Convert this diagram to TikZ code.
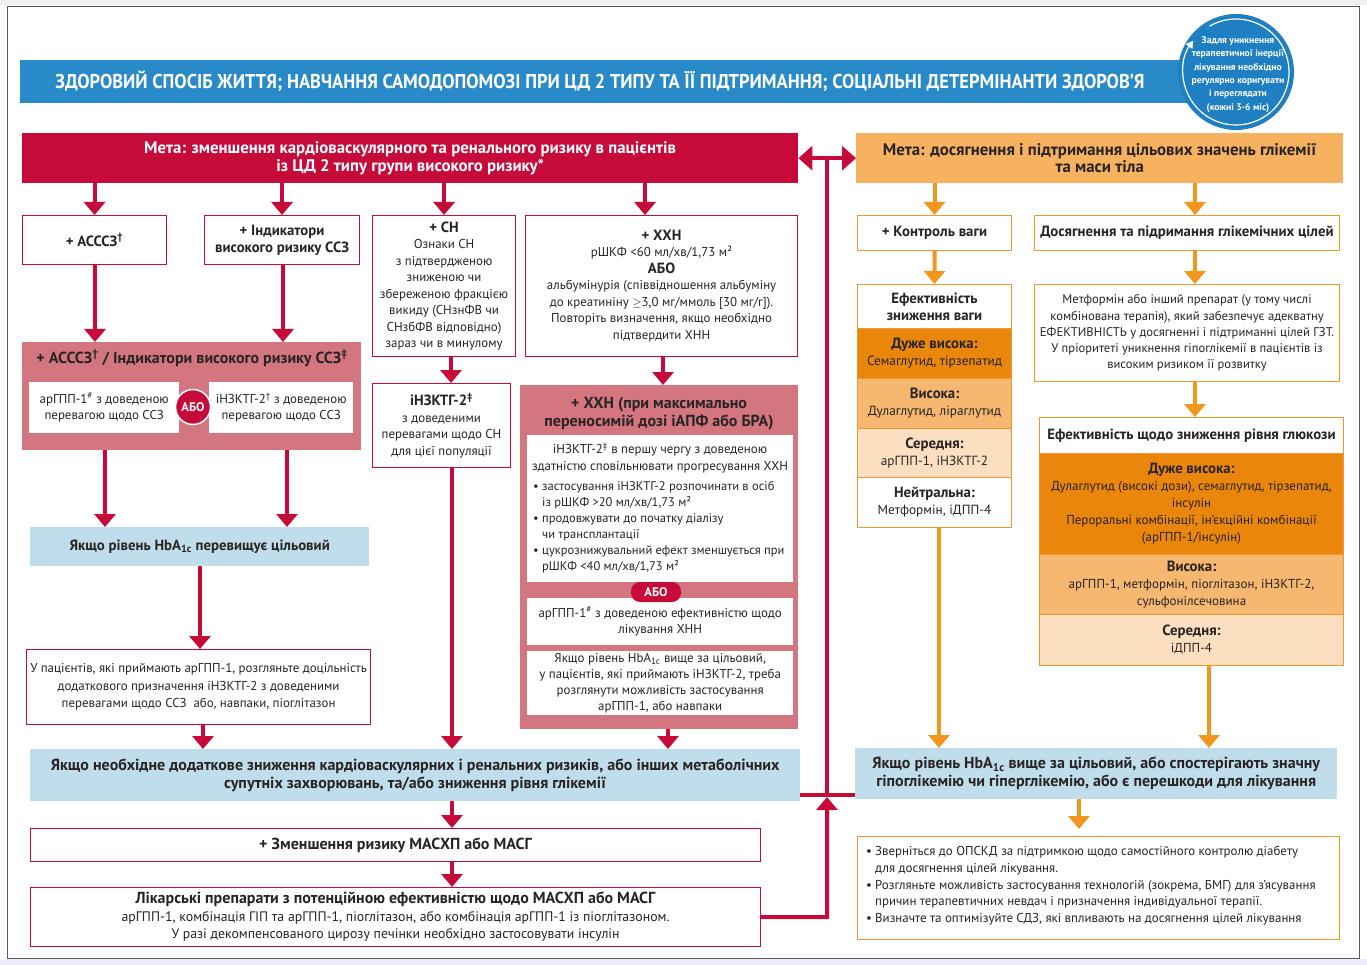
\documentclass[tikz,border=0pt]{standalone}
\usepackage{fontspec}
\setmainfont{PT Sans}
\usepackage{graphicx}
\usetikzlibrary{arrows.meta,calc}
\definecolor{crim}{RGB}{198,10,58}
\definecolor{pinkf}{RGB}{212,118,128}
\definecolor{lblue}{RGB}{192,221,235}
\definecolor{bblue}{RGB}{40,138,200}
\definecolor{cblue}{RGB}{30,128,194}
\definecolor{ogoal}{RGB}{247,178,96}
\definecolor{odark}{RGB}{234,134,12}
\definecolor{omed}{RGB}{246,184,112}
\definecolor{olight}{RGB}{252,223,192}
\definecolor{obrd}{RGB}{240,152,45}
\definecolor{oarr}{RGB}{241,150,30}
\definecolor{txt}{RGB}{40,36,37}
\newcommand{\frg}{\fontsize{12.9pt}{16.5pt}\selectfont}
\newcommand{\fbd}{\fontsize{14.8pt}{17pt}\selectfont\bfseries}
\newcommand{\fbig}{\fontsize{16pt}{18pt}\selectfont\bfseries}
\newcommand{\bul}{\makebox[9pt][l]{•}}
\newcommand{\ind}{\hspace*{9pt}}
\newcommand{\sps}[1]{\textsuperscript{#1}}
\begin{document}
\begin{tikzpicture}[x=1pt,y=-1pt,
  box/.style={anchor=north west, inner sep=0pt, align=center, text=txt, font=\frg},
  rbox/.style={box, draw=crim, line width=1.1pt, fill=white},
  obox/.style={box, draw=obrd, line width=1.1pt, fill=white},
  fbox/.style={box, draw=none},
  tnode/.style={inner sep=0pt, align=center, text=txt, font=\frg},
  rarr/.style={draw=crim, line width=4pt, -{Triangle[width=21pt,length=13pt]}},
  oarrw/.style={draw=oarr, line width=4pt, -{Triangle[width=21pt,length=13pt]}},
  rline/.style={draw=crim, line width=4pt},
  wsec/.style={box, minimum width=154pt, draw=obrd, line width=1pt},
  gsec/.style={box, minimum width=304pt, draw=obrd, line width=1pt}
]
\useasboundingbox (0,0) rectangle (1367,965);
\fill[white] (0,0) rectangle (1367,965);
\fill[gray!12] (0,0) rectangle (1367,5);
\fill[blue!7] (0,959) rectangle (1367,965);
\draw[gray!70!black, line width=1pt] (7,7) rectangle (1359,958);

% banner
\node[fbox, fill=bblue, minimum width=1180pt, minimum height=43pt] (banner) at (20,60) {};
\node[tnode, text=white, font=\fontsize{20pt}{20pt}\selectfont\bfseries] (bannertxt) at (600,81.5)
  {\scalebox{0.92}[1]{ЗДОРОВИЙ СПОСІБ ЖИТТЯ; НАВЧАННЯ САМОДОПОМОЗІ ПРИ ЦД 2 ТИПУ ТА ЇЇ ПІДТРИМАННЯ; СОЦІАЛЬНІ ДЕТЕРМІНАНТИ ЗДОРОВ’Я}};
\node[circle, fill=cblue, minimum size=116pt, inner sep=0pt] (circ) at (1236,72) {};
\draw[white, line width=1.2pt, -{Triangle[width=8pt,length=7pt]}] ($(circ.center)+(-120:53)$) arc[start angle=-120, end angle=216, radius=53];
\node[tnode, text=white, font=\fontsize{9.6pt}{13.4pt}\selectfont\bfseries] (circtxt) at (1238,74.5)
  {Задля уникнення\\терапевтичної інерції\\лікування необхідно\\регулярно коригувати\\і переглядати\\(кожні 3-6 міс)};

% goals
\node[fbox, fill=crim, text=white, font=\fontsize{16.8pt}{17.5pt}\selectfont\bfseries, minimum width=776pt, minimum height=50pt] (goalR) at (22,133)
  {Мета: зменшення кардіоваскулярного та ренального ризику в пацієнтів\\із ЦД 2 типу групи високого ризику*};
\node[fbox, fill=ogoal, font=\fontsize{16.8pt}{17.5pt}\selectfont\bfseries, minimum width=487pt, minimum height=50pt] (goalO) at (856,133)
  {Мета: досягнення і підтримання цільових значень глікемії\\та маси тіла};

% left row 1
\node[rbox, minimum width=144pt, minimum height=49pt, font=\fbd] (b1) at (22,215) {+ АСССЗ\sps{†}};
\node[rbox, minimum width=155pt, minimum height=49pt, font=\fbd] (b2) at (204,215) {+ Індикатори\\високого ризику ССЗ};
\node[rbox, minimum width=143pt, minimum height=141pt] (b3) at (372,215)
  {{\fbd + СН}\\Ознаки СН\\з підтвердженою\\зниженою чи\\збереженою фракцією\\викиду (СНзнФВ чи\\СНзбФВ відповідно)\\зараз чи в минулому};
\node[rbox, minimum width=272pt, minimum height=141pt] (b4) at (525,215)
  {{\fbd + ХХН}\\рШКФ <60 мл/хв/1,73 м²\\{\fbd АБО}\\альбумінурія (співвідношення альбуміну\\до креатиніну $\geq$3,0 мг/ммоль [30 мг/г]).\\Повторіть визначення, якщо необхідно\\підтвердити ХНН};

\coordinate (x645) at (645,0);
\draw[rarr] (goalR.south -| b1.north) -- (b1.north);
\draw[rarr] (goalR.south -| b2.north) -- (b2.north);
\draw[rarr] (goalR.south -| b3.north) -- (b3.north);
\draw[rarr] (goalR.south -| x645) -- (b4.north -| x645);

% pink ASCVD
\node[fbox, fill=pinkf, minimum width=339pt, minimum height=108pt] (p1) at (22,342) {};
\node[tnode, font=\fontsize{16pt}{17pt}\selectfont\bfseries] (p1t) at (192,358) {+ АСССЗ\sps{†} / Індикатори високого ризику ССЗ\sps{‡}};
\node[box, fill=white, minimum width=150pt, minimum height=51pt] (w1) at (29,382) {арГПП-1\sps{\#} з доведеною\\перевагою щодо ССЗ};
\node[box, fill=white, minimum width=144pt, minimum height=51pt] (w2) at (209,382) {іНЗКТГ-2\sps{†} з доведеною\\перевагою щодо ССЗ};
\node[circle, fill=crim, draw=white, line width=1.5pt, minimum size=35pt, inner sep=0pt, text=white, font=\fontsize{12.5pt}{12pt}\selectfont\bfseries] (abo1) at (193,407) {АБО};

\coordinate (x95) at (95,0);
\coordinate (x283) at (283,0);
\draw[rarr] (b1.south -| x95) -- (p1.north -| x95);
\draw[rarr] (b2.south -| x283) -- (p1.north -| x283);

% HbA1c left
\node[fbox, fill=lblue, minimum width=339pt, minimum height=39pt, font=\fbd] (hb) at (30,527) {Якщо рівень HbA\textsubscript{1c} перевищує цільовий};
\coordinate (x105) at (105,0);
\coordinate (x287) at (287,0);
\draw[rarr] (p1.south -| x105) -- (hb.north -| x105);
\draw[rarr] (p1.south -| x287) -- (hb.north -| x287);

\node[rbox, minimum width=344pt, minimum height=75pt, font=\fontsize{12.9pt}{17.5pt}\selectfont] (u1) at (26,649)
  {У пацієнтів, які приймають арГПП-1, розгляньте доцільність\\додаткового призначення іНЗКТГ-2 з доведеними\\перевагами щодо ССЗ~ або, навпаки, піоглітазон};
\coordinate (x200) at (200,0);
\draw[rarr] (hb.south -| x200) -- (u1.north -| x200);

% HF column
\node[rbox, minimum width=138pt, minimum height=84pt] (s1) at (372,383)
  {{\fbd іНЗКТГ-2\sps{‡}}\\з доведеними\\перевагами щодо СН\\для цієї популяції};
\coordinate (x451) at (451,0);
\draw[rarr] (b3.south -| x451) -- (s1.north -| x451);

% CKD pink
\coordinate (x663) at (663,0);
\node[fbox, fill=pinkf, minimum width=278pt, minimum height=344pt] (k1) at (520,385) {};
\draw[rarr] (b4.south -| x663) -- (k1.north -| x663);
\node[tnode, font=\fontsize{16pt}{18pt}\selectfont\bfseries] (k1t) at (659,414) {+ ХХН (при максимально\\переносимій дозі іАПФ або БРА)};
\node[box, fill=white, minimum width=266pt, minimum height=147pt] (k1a) at (527,435) {};
\node[tnode] (k1ah) at (660,458) {іНЗКТГ-2\sps{‡} в першу чергу з доведеною\\здатністю сповільнювати прогресування ХХН};
\node[tnode, anchor=north west, align=left, font=\fontsize{12.5pt}{16pt}\selectfont] (k1ab) at (533,481)
  {\bul застосування іНЗКТГ-2 розпочинати в осіб\\\ind із рШКФ >20 мл/хв/1,73 м²\\\bul продовжувати до початку діалізу\\\ind чи трансплантації\\\bul цукрознижувальний ефект зменшується при\\\ind рШКФ <40 мл/хв/1,73 м²};
\node[box, fill=white, minimum width=266pt, minimum height=47pt] (k1b) at (527,598) {арГПП-1\sps{\#} з доведеною ефективністю щодо\\лікування ХНН};
\node[box, fill=white, minimum width=266pt, minimum height=64pt, font=\fontsize{12.9pt}{16.3pt}\selectfont] (k1c) at (527,651)
  {Якщо рівень HbA\textsubscript{1c} вище за цільовий,\\у пацієнтів, які приймають іНЗКТГ-2, треба\\розглянути можливість застосування\\арГПП-1, або навпаки};
\node[rounded corners=9pt, fill=crim, minimum width=50pt, minimum height=20pt, inner sep=0pt, text=white, font=\fontsize{12.5pt}{12pt}\selectfont\bfseries] (abo2) at (656,592) {АБО};

% big blue box
\node[fbox, fill=lblue, minimum width=770pt, minimum height=52pt, font=\fbig] (bb) at (30,749)
  {Якщо необхідне додаткове зниження кардіоваскулярних і ренальних ризиків, або інших метаболічних\\супутніх захворювань, та/або зниження рівня глікемії};
\coordinate (x203) at (203,0);
\coordinate (x452) at (452,0);
\coordinate (x668) at (668,0);
\draw[rarr] (u1.south -| x203) -- (bb.north -| x203);
\draw[rarr] (s1.south -| x452) -- (bb.north -| x452);
\draw[rarr] (k1.south -| x668) -- (bb.north -| x668);

\node[rbox, minimum width=730pt, minimum height=33pt, font=\fbig] (m1) at (30,828) {+ Зменшення ризику МАСХП або МАСГ};
\node[rbox, minimum width=730pt, minimum height=59pt, font=\fontsize{13.8pt}{17.5pt}\selectfont] (m2) at (30,887)
  {{\fbig Лікарські препарати з потенційною ефективністю щодо МАСХП або МАСГ}\\арГПП-1, комбінація ГІП та арГПП-1, піоглітазон, або комбінація арГПП-1 із піоглітазоном.\\У разі декомпенсованого цирозу печінки необхідно застосовувати інсулін};
\draw[rarr] (bb.south -| x452) -- (m1.north -| x452);
\draw[rarr] (m1.south -| x452) -- (m2.north -| x452);

% right side
\node[obox, minimum width=154pt, minimum height=35pt, font=\fbd] (o1) at (857,215) {+ Контроль ваги};
\node[obox, minimum width=305pt, minimum height=35pt, font=\fbd] (o2) at (1034,215) {Досягнення та підримання глікемічних цілей};
\coordinate (x1195) at (1195,0);
\draw[oarrw] (goalO.south -| o1.north) -- (o1.north);
\draw[oarrw] (goalO.south -| x1195) -- (o2.north -| x1195);

\node[wsec, fill=white, minimum height=44pt, font=\fbd] (weH) at (857,284) {Ефективність\\зниження ваги};
\node[wsec, fill=odark, minimum height=50pt, font=\fontsize{13.3pt}{17pt}\selectfont] (weD) at (857,328) {{\fbd Дуже висока:}\\Семаглутид, тірзепатид};
\node[wsec, fill=omed, minimum height=50pt, font=\fontsize{13.3pt}{17pt}\selectfont] (weM) at (857,378) {{\fbd Висока:}\\Дулаглутид, ліраглутид};
\node[wsec, fill=olight, minimum height=49pt, font=\fontsize{13.3pt}{17pt}\selectfont] (weL) at (857,428) {{\fbd Середня:}\\арГПП-1, іНЗКТГ-2};
\node[wsec, fill=white, minimum height=50pt, font=\fontsize{13.3pt}{17pt}\selectfont] (weN) at (857,477) {{\fbd Нейтральна:}\\Метформін, іДПП-4};
\draw[oarrw] (o1.south) -- (weH.north);

\node[obox, minimum width=305pt, minimum height=97pt, font=\fontsize{12.6pt}{16.3pt}\selectfont] (gm) at (1034,284)
  {Метформін або інший препарат (у тому числі\\комбінована терапія), який забезпечує адекватну\\ЕФЕКТИВНІСТЬ у досягненні і підтриманні цілей ГЗТ.\\У пріоритеті уникнення гіпоглікемії в пацієнтів із\\високим ризиком її розвитку};
\draw[oarrw] (o2.south -| x1195) -- (gm.north -| x1195);

\node[gsec, fill=white, minimum height=36pt, font=\fbd] (geH) at (1039,417) {Ефективність щодо зниження рівня глюкози};
\node[gsec, fill=odark, minimum height=101pt, font=\fontsize{13pt}{17pt}\selectfont] (geD) at (1039,453)
  {{\fbd Дуже висока:}\\Дулаглутид (високі дози), семаглутид, тірзепатид,\\інсулін\\Пероральні комбінації, ін’єкційні комбінації\\(арГПП-1/інсулін)};
\node[gsec, fill=omed, minimum height=60pt, font=\fontsize{13pt}{17pt}\selectfont] (geM) at (1039,554)
  {{\fbd Висока:}\\арГПП-1, метформін, піоглітазон, іНЗКТГ-2,\\сульфонілсечовина};
\node[gsec, fill=olight, minimum height=51pt, font=\fontsize{13pt}{17pt}\selectfont] (geL) at (1039,614) {{\fbd Середня:}\\іДПП-4};
\draw[oarrw] (gm.south -| x1195) -- (geH.north -| x1195);

\node[fbox, fill=lblue, minimum width=482pt, minimum height=51pt, font=\fbig] (rb) at (855,748)
  {Якщо рівень HbA\textsubscript{1c} вище за цільовий, або спостерігають значну\\гіпоглікемію чи гіперглікемію, або є перешкоди для лікування};
\coordinate (x939) at (939,0);
\coordinate (x1209) at (1209,0);
\draw[oarrw] (weN.south -| x939) -- (rb.north -| x939);
\draw[oarrw] (geL.south -| x1209) -- (rb.north -| x1209);

\node[obox, minimum width=482pt, minimum height=103pt] (ob) at (857,836) {};
\node[tnode, anchor=north west, align=left, font=\fontsize{12.9pt}{16.8pt}\selectfont] (obt) at (866,846)
  {\bul Зверніться до ОПСКД за підтримкою щодо самостійного контролю діабету\\\ind для досягнення цілей лікування.\\\bul Розгляньте можливість застосування технологій (зокрема, БМГ) для з’ясування\\\ind причин терапевтичних невдач і призначення індивідуальної терапії.\\\bul Визначте та оптимізуйте СДЗ, які впливають на досягнення цілей лікування};
\coordinate (x1079) at (1079,0);
\draw[oarrw] (rb.south -| x1079) -- ($(ob.north -| x1079)+(0,-7)$);

% central connectors
\coordinate (jm) at ($(goalR.east)!0.5!(goalO.west)$);
\coordinate (lowj) at (827,795);
\draw[rline, {Triangle[width=24pt,length=14pt]}-{Triangle[width=24pt,length=14pt]}] (goalR.east) -- (goalO.west);
\draw[rline] (jm) -- (jm |- lowj);
\draw[rline] (bb.east |- lowj) -- (rb.west |- lowj);
\draw[rline, -{Triangle[width=21pt,length=13pt]}] (m2.east) -- (m2.east -| jm) -- ($(lowj)+(0,2)$);
\end{tikzpicture}
\end{document}
